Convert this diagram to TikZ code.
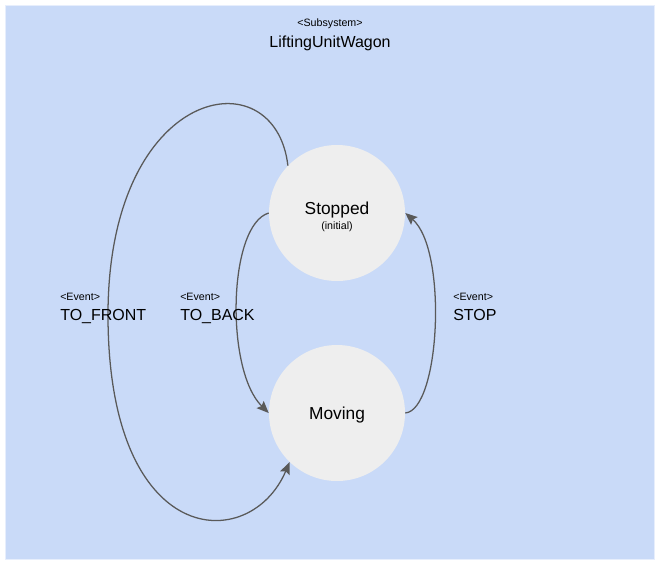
\documentclass[tikz,border=0pt]{standalone}
\usepackage{fontspec}
\setmainfont{Liberation Sans}
\usepackage{tikz}
\usetikzlibrary{arrows.meta}
\definecolor{wagonblue}{HTML}{C9DAF8}
\definecolor{stategray}{HTML}{EEEEEE}
\definecolor{edgegray}{HTML}{595959}

\begin{document}
\begin{tikzpicture}[x=0.75pt,y=0.75pt,yscale=-1,xscale=1,
  state/.style={circle,fill=stategray,inner sep=0pt,minimum size=102pt,align=center},
  trans/.style={draw=edgegray,line width=0.95pt,-{Stealth[length=9pt,width=7.5pt,inset=1.5pt]}},
  evlabel/.style={anchor=north west,inner sep=0pt,align=left}]
\useasboundingbox (0,0) rectangle (657,562);

%Shape: Rectangle [subsystem]
\draw[draw=white!55!wagonblue, fill=wagonblue] (5,5) rectangle (654,559);

% Text Node
\node (title) at (330,35) [inner sep=0pt,align=center] {\fontsize{8}{10}\selectfont <Subsystem>\\[4pt]\fontsize{12}{14}\selectfont LiftingUnitWagon};

%Shape: Circle [Stopped]
\node (stopped) [state] at (337,213) {\rule{0pt}{14.7pt}\fontsize{13}{15}\selectfont Stopped\\[-1pt]\fontsize{8}{9}\selectfont (initial)};
%Shape: Circle [Moving]
\node (moving) [state] at (337,413) {\rule{0pt}{12.5pt}\fontsize{13}{15}\selectfont Moving};

%Curve [TO_FRONT]
\draw[trans] (stopped.136) .. controls (275,55) and (108,85) .. (108,315) .. controls (108,550) and (250,555) .. (moving.226);
%Curve [TO_BACK]
\draw[trans] (stopped.west) .. controls (228,225) and (225,370) .. (moving.west);
%Curve [STOP]
\draw[trans] (moving.east) .. controls (440,410) and (448,250) .. (stopped.east);

% Text Node
\node (tofront) [evlabel] at (60,293) {\fontsize{8}{10}\selectfont <Event>\\[3pt]\fontsize{12}{14}\selectfont TO\_FRONT};
% Text Node
\node (toback) [evlabel] at (180,293) {\fontsize{8}{10}\selectfont <Event>\\[3pt]\fontsize{12}{14}\selectfont TO\_BACK};
% Text Node
\node (stop) [evlabel] at (453,293) {\fontsize{8}{10}\selectfont <Event>\\[3pt]\fontsize{12}{14}\selectfont STOP};

\end{tikzpicture}
\end{document}
